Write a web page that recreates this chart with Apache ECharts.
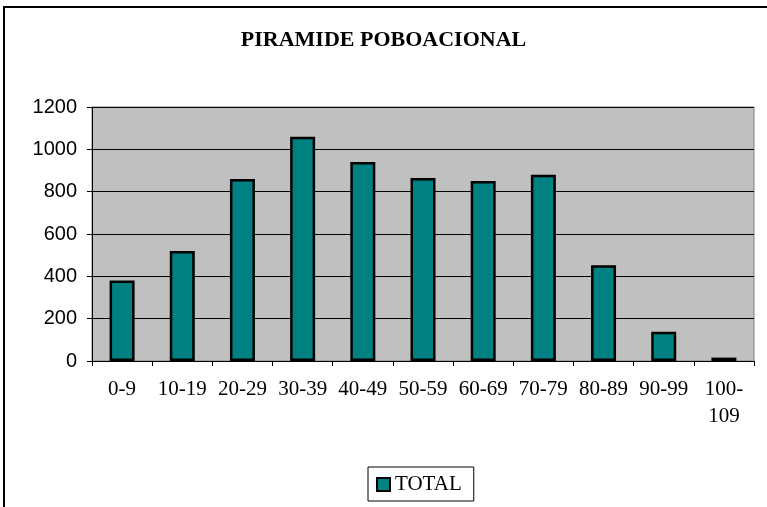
<!DOCTYPE html>
<html>
<head>
<meta charset="utf-8">
<script src="https://cdn.jsdelivr.net/npm/echarts@6/dist/echarts.min.js"></script>
<style>
  html, body { margin: 0; padding: 0; background: #fff; }
  #chart { width: 767px; height: 507px; }
</style>
</head>
<body>
<div id="chart"></div>
<script>
// datos
const ageGroups = ['0-9', '10-19', '20-29', '30-39', '40-49', '50-59', '60-69', '70-79', '80-89', '90-99', '100-109'];
const totals = [380, 520, 860, 1060, 940, 865, 850, 880, 452, 138, 16];
const yTicks = [0, 200, 400, 600, 800, 1000, 1200];

const serif = '"Liberation Serif", "DejaVu Serif", serif';
const sans = '"Liberation Sans", Arial, sans-serif';

const chart = echarts.init(document.getElementById('chart'));

chart.setOption({
    animation: false,
    backgroundColor: '#fff',
    title: {
        text: 'PIRAMIDE POBOACIONAL',
        left: 'center',
        top: 24,
        textStyle: { fontFamily: serif, fontWeight: 'bold', fontSize: 22, color: '#000' }
    },
    graphic: [{
        type: 'rect',
        shape: { x: 4, y: 7, width: 900, height: 700 },
        style: { fill: 'none', stroke: '#000', lineWidth: 2 },
        silent: true
    }],
    legend: {
        left: 368,
        top: 467,
        data: ['TOTAL'],
        icon: 'rect',
        itemWidth: 13,
        itemHeight: 13,
        itemGap: 4,
        padding: [7, 12, 6, 8],
        borderColor: '#000',
        borderWidth: 1,
        textStyle: { fontFamily: serif, fontSize: 21, color: '#000', padding: [2, 0, 0, 0] }
    },
    grid: {
        left: 92,
        right: 13,
        top: 107,
        bottom: 146,
        show: true,
        backgroundColor: '#c0c0c0',
        borderColor: '#808080',
        borderWidth: 1
    },
    xAxis: {
        type: 'category',
        data: ageGroups,
        axisLine: { lineStyle: { color: '#000', width: 1 } },
        axisTick: { show: true, length: 5, lineStyle: { color: '#000' } },
        axisLabel: {
            color: '#000',
            fontFamily: serif,
            fontSize: 21,
            margin: 15,
            lineHeight: 27,
            interval: 0,
            formatter: v => v === '100-109' ? '100-\n109' : v
        }
    },
    yAxis: {
        type: 'value',
        min: 0,
        max: 1200,
        interval: 200,
        axisLine: { show: true, lineStyle: { color: '#000', width: 1 } },
        axisTick: { show: true, length: 5, lineStyle: { color: '#000' } },
        axisLabel: {
            color: '#000',
            fontFamily: sans,
            fontSize: 20,
            margin: 15,
            formatter: v => yTicks.includes(v) ? String(v) : ''
        },
        splitLine: { show: true, lineStyle: { color: '#000', width: 1 } }
    },
    series: [{
        name: 'TOTAL',
        type: 'bar',
        data: totals,
        barWidth: 25,
        itemStyle: { color: '#008080', borderColor: '#000', borderWidth: 2.5 }
    }]
});
</script>
</body>
</html>
